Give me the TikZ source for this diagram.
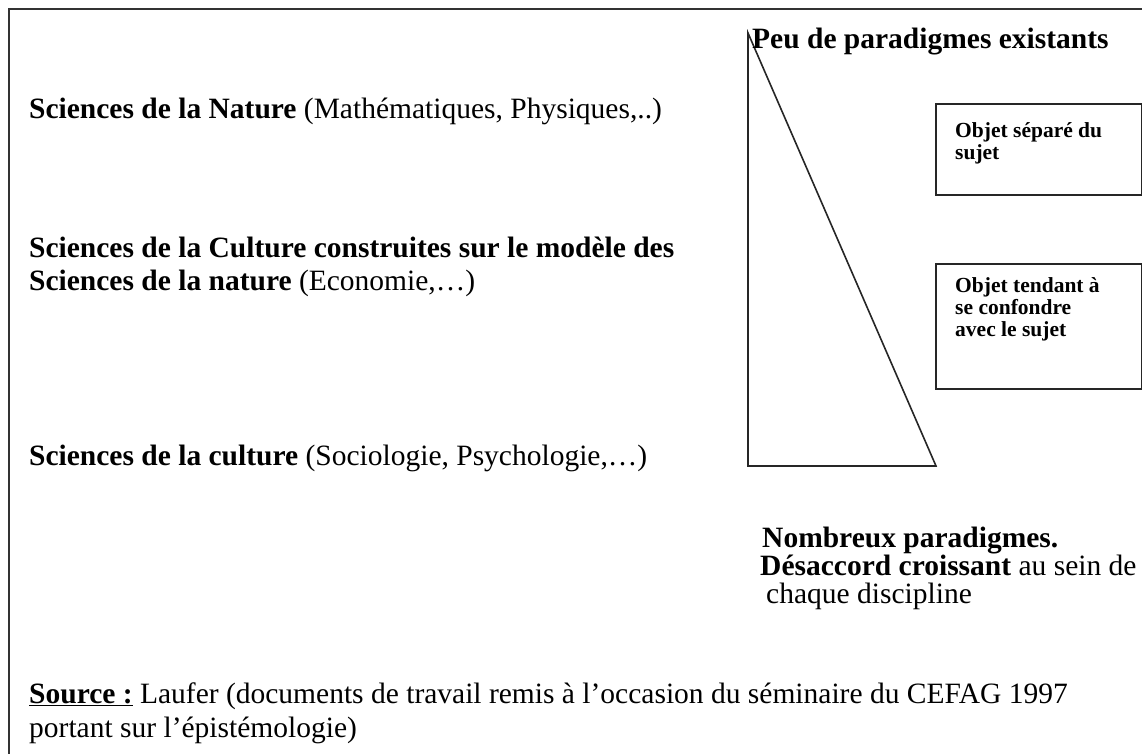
\documentclass[tikz,border=0pt]{standalone}
\usepackage{fontspec}
\setmainfont{Liberation Serif}
\begin{document}
\begin{tikzpicture}[x=1pt,y=-1pt,
  txt/.style={anchor=base west, inner sep=0pt, font=\fontsize{29.5}{34}\selectfont},
  boxtxt/.style={anchor=base west, inner sep=0pt, font=\fontsize{21.5}{22}\selectfont\bfseries},
  framebox/.style={draw=black!85, line width=1.8pt, inner sep=0pt, minimum width=206pt, anchor=north west},
  triline/.style={line width=1.6pt, line join=miter, draw=black!85}]
\useasboundingbox (0,0) rectangle (1142,753);
\draw[line width=2.2pt, black!80] (9,800) -- (9,9) -- (1200,9);
% triangle
\coordinate (tA) at (748,33);
\coordinate (tB) at (748,466);
\coordinate (tC) at (936,466);
\draw[triline] (tA) -- (tB) -- (tC) -- cycle;
% headings
\node[txt] (peu) at (752,48) {\textbf{Peu de paradigmes existants}};
\node[txt] (nat) at (29,118) {\textbf{Sciences de la Nature} (Mathématiques, Physiques,..)};
\node[txt] (cul1) at (29,257) {\textbf{Sciences de la Culture construites sur le modèle des}};
\node[txt] (cul2) at (29,290) {\textbf{Sciences de la nature} (Economie,…)};
\node[txt] (cul3) at (29,465) {\textbf{Sciences de la culture} (Sociologie, Psychologie,…)};
% boxes
\node[framebox, minimum height=91pt] (b1) at (935,103) {};
\node[boxtxt] (b1a) at (955,137) {Objet séparé du};
\node[boxtxt] (b1b) at (955,159) {sujet};
\node[framebox, minimum height=125pt] (b2) at (935,263) {};
\node[boxtxt] (b2a) at (955,292) {Objet tendant à};
\node[boxtxt] (b2b) at (955,314) {se confondre};
\node[boxtxt] (b2c) at (955,336) {avec le sujet};
% bottom text
\node[txt] (nomb) at (762,547) {\textbf{Nombreux paradigmes.}};
\node[txt] (des) at (760,575) {\textbf{Désaccord croissant} au sein de};
\node[txt] (chq) at (766,603) {chaque discipline};
\node[txt] (src) at (29,703) {\underline{\textbf{Source :}} Laufer (documents de travail remis à l’occasion du séminaire du CEFAG 1997};
\node[txt] (src2) at (29,737) {portant sur l’épistémologie)};
\end{tikzpicture}
\end{document}
